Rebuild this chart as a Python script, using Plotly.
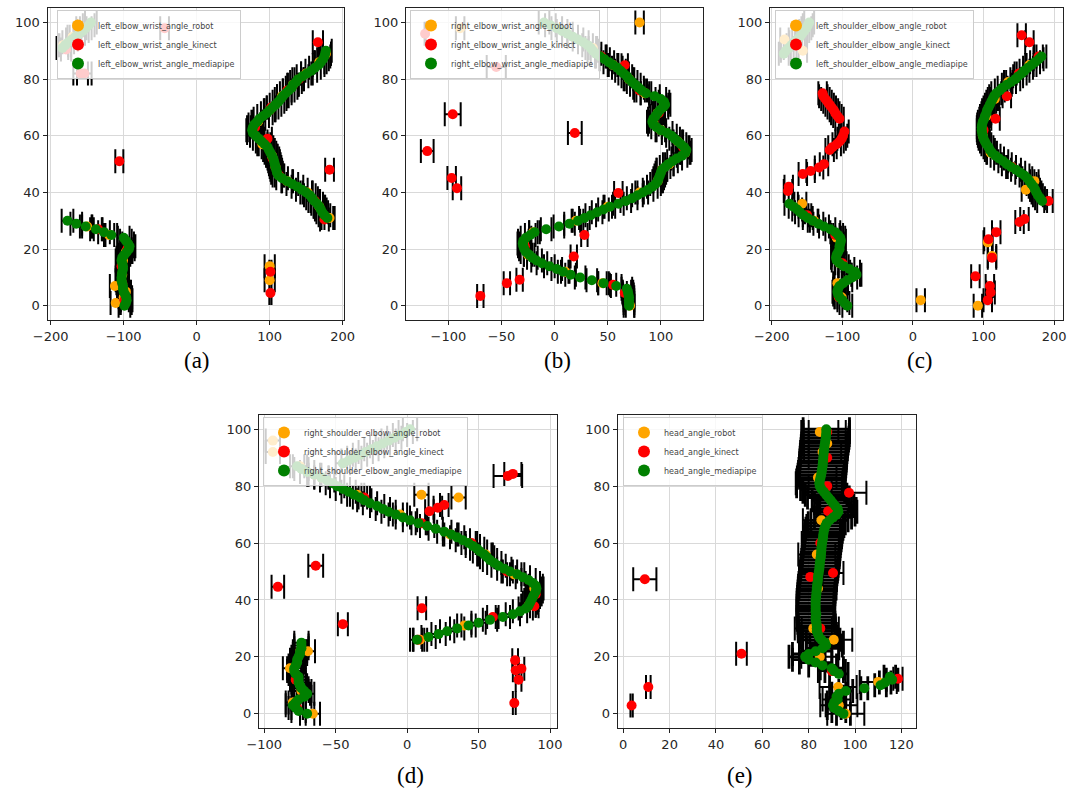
import plotly.graph_objects as go

# ---------------- data ----------------
# shared frame index (y axis) used by every mediapipe series
Y_INDEX = [0, 1, 2, 3, 4, 5, 6, 7, 8, 9, 10, 11, 12, 13, 14, 15, 16, 17, 18, 19,
           20, 21, 22, 23, 24, 25, 26, 27, 28, 29, 30, 31, 32, 33, 34, 35, 36, 37, 38, 39,
           40, 41, 42, 43, 44, 45, 46, 47, 48, 49, 50, 51, 52, 53, 54, 55, 56, 57, 58, 59,
           60, 61, 62, 63, 64, 65, 66, 67, 68, 69, 70, 71, 72, 73, 74, 75, 76, 77, 78, 79,
           80, 81, 82, 83, 84, 85, 86, 87, 88, 89, 90, 91, 92, 93, 94, 95, 96, 97, 98, 99, 100]

# (a) left_elbow_wrist_angle
A_MP_X = [-99, -97, -96, -96.5, -98, -100, -101, -101, -102, -103, -103, -102.5, -102, -101, -101,
          -102, -103, -102, -99, -96, -93, -92, -94, -97, -100, -117, -127, -138, -152, -165, -177,
          179, 175, 172, 170, 168, 165, 161, 158, 155, 150, 144, 138, 131, 124, 117, 112, 110, 109,
          108, 107, 106, 105, 103, 101, 99, 97, 93, 89, 85, 81, 77, 76, 77, 79, 83, 86, 91, 96, 100,
          104, 108, 112, 115, 118, 122, 126, 130, 132, 136, 139, 145, 151, 157, 162, 167, 170, 173,
          175, 176, 177, -184, -180, -176, -171, -166, -161, -156, -152, -148, -145]
A_RB_X = [-111, -100, -97, -112, 100, -102, 100, -101, -97, -93, -120, -150, 182, 168, 152, 124,
          108, 103, 90, 77, 84, 100, 117, 132, 150, 168, 177, -183, -170, -158]
A_RB_Y = [1, 3, 5, 7, 9, 11, 14, 16, 19, 21, 25, 28, 31, 35, 40, 44, 49, 53, 57, 62, 65, 69, 74,
          78, 82, 86, 89, 92, 95, 98]
A_KN_X = [101, -99, -102, 101, -103, -95, -135, 175, 162, 113, 182, -106, 104, 97, 80, 102, 124,
          140, -159, -154, 166, -179, -44]
A_KN_Y = [4.5, 2, 8, 12, 14, 20, 27, 30.5, 37, 46, 48, 51, 52, 59, 63, 70, 76, 80, 82, 82, 93,
          90.5, 98]
A_KN_ERR = [1.5, 6, 6, 1.5, 6, 6, 6, 6, 6, 6, 6, 5.5, 6, 6, 6, 6, 6, 6, 10, 10, 7, 7, 6]

# (b) right_elbow_wrist_angle
B_MP_X = [70, 70, 70, 70, 69.5, 69, 68, 58, 46, 35, 24, 15, 8, 2, -5, -12, -17, -21, -24, -27,
          -28.5, -29.5, -30, -29.5, -27, -23, -19, -8, 4, 14, 22, 28, 34, 40, 46, 52, 60, 67, 73,
          78, 83, 88, 92, 95, 97, 98, 99, 100, 101, 104, 107, 111, 115, 120, 123, 124, 122, 119,
          116, 113, 110, 106, 100, 96, 93, 92, 93, 95, 97, 99, 102, 104, 103, 100, 94, 86, 82, 79,
          76, 73, 70, 68, 65, 62, 59, 55, 51, 47, 43, 39, 36, 34, 31, 27, 22, 17, 12, 7, 2, -4, -10]
B_RB_X = [71, 68, 45, 10, -25, -29, -20, 20, 50, 80, 97, 108, 123, 116, 100, 93, 97, 103, 85, 70,
          55, 36, 80, -89]
B_RB_Y = [0, 5, 8, 12, 18, 22, 26, 30, 35, 40, 44, 50, 54, 58, 62, 65, 68, 71, 75, 80, 85, 91,
          100, 98]
B_KN_X = [66, 55, -70, -45, -33, 18, 28, -28, 60, 101, -92, -97, 121, -120, 19, 98, -96, 80, 66,
          -55, 44, -122]
B_KN_Y = [4.5, 7.4, 3.5, 8, 9.2, 17.4, 25, 21, 39.8, 48, 41.5, 45.1, 56, 54.6, 61, 68, 67.6, 76,
          84.9, 84.3, 88, 96]
B_KN_ERR = [2, 3, 3, 3, 3, 3, 3, 5, 4, 5, 4, 4, 5, 6, 6.5, 5, 7.5, 5, 3, 9, 5, 0.5]

# (c) left_shoulder_elbow_angle
C_MP_X = [-93, -97, -100, -104, -106, -107, -106, -104, -99, -93, -86, -80, -82, -90, -98, -104,
          -108, -109, -108, -106, -104, -104, -103, -102, -103, -106, -110, -117, -126, -134, -142,
          -149, -155, -160, -164, -169, -175, 183, 180, 177, 175, 173, 171, 168, 165, 162, 158, 152,
          146, 139, 133, 128, 122, 117, 112, 109, 107, 104, 102, 100, 99, 98, 97.5, 97.5, 98, 99,
          101, 102, 104, 105, 107, 109, 111, 113, 115, 118, 123, 127, 133, 139, 145, 149, 154, 158,
          163, 168, 173, 178, 182, -183, -180, -176, -172, -168, -164, -160, -157, -154, -151,
          -149, -147]
C_RB_X = [92, 11, -101, -107, -81, -104, 112, 106, -108, -140, -157, 160, 172, 140, 110, 99, 104,
          116, 135, 165, -156, -182]
C_RB_Y = [0, 2, 3, 8, 11, 15, 17.6, 22.4, 24, 30, 36, 41, 44, 49, 54, 60, 67, 73, 79, 85, 90, 94]
C_KN_X = [106, 110, 109, 88.5, 112, 107, 118, 151, 158, 192, -105, -100, -110, -150, -177, -176,
          -156, -145, -133, -126, -118, -114, -108, -104, -101, -99, -97, -104, -107, -110, -112,
          -115, -118, -121, -124, -127, -128, 140, 100, 117, 133, 150, 178, 154, 165]
C_KN_Y = [2, 4.7, 7, 10.4, 17, 23.5, 26, 29.6, 30.6, 37, 3, 15, 25, 32, 40.5, 42, 46.5, 47.6,
          48.8, 50, 55, 56, 57, 58, 59, 60, 61.5, 66, 67, 68, 69, 70, 71, 72, 73, 74, 75, 49, 62,
          66, 74, 82, 88, 95.5, 93]

# (d) right_shoulder_elbow_angle
D_MP_X = [-70, -76, -78, -80, -78, -76, -72, -70, -72, -74, -75, -76, -76, -76, -78, -79, -79,
          -78, -77, -77, -76, -75, -75, -74, -74, -74, 7, 15, 22, 28, 35, 43, 50, 58, 67, 74, 79,
          83, 85, 86, 87, 88, 89, 90, 90.5, 90, 88, 85, 81, 77, 72, 68, 64, 61, 58, 56, 54, 51, 49,
          46, 43, 39, 35, 31, 26, 20, 14, 8, 2, -3, -8, -13, -17, -21, -26, -30, -33, -37, -41,
          -45, -49, -52, -56, -60, -65, -70, -74, -77, -45, -41, -37, -33, -29, -25, -21, -17,
          -13, -9, -5, -1, 2]
D_RB_X = [-66, -80, -74, -82, -69.5, 9, 40, 85, 89, 75, 55, 30, -5, 10, 36, -35, -60, -75, -94, -94]
D_RB_Y = [0, 4, 8, 16, 22, 26, 31, 38, 44, 49, 56, 63, 70, 77, 76, 77, 83, 87, 92, 96]
D_KN_X = [75, -77, -72, 78, -78, 76, 80, -75, 7.5, -45, 60, 89, 90, -90.5, 70, -64, 45, 15.6,
          21.5, 26, 10, -30, 70.5, 74, -65, 10.3, 75.6]
D_KN_Y = [3.8, 2, 7, 12, 12, 15.3, 15.8, 22, 26, 31.5, 34, 37.8, 42, 44.6, 50, 52, 60, 71.2,
          72.4, 73.4, 67, 76, 83.6, 84.3, 84, 37.1, 18.8]
D_KN_ERR = [1, 4, 4, 2, 4, 2, 2, 4, 3, 3.5, 4, 3, 4, 4.4, 4, 5.2, 4, 3, 3, 3, 4, 4, 10, 6, 4, 3, 2]

# (e) head_angle
E_MP_X = [95, 93, 91, 90.5, 91, 92.5, 92, 93, 96, 104, 111, 113, 116, 115, 93, 91, 90, 86, 83, 80,
          78.5, 80, 83, 86, 87.5, 87, 85.5, 84.5, 84, 83.5, 83.5, 83.5, 83.3, 83, 83, 83.3, 83, 83,
          83, 83, 83, 83.2, 83.3, 83.4, 83.5, 83.6, 83.8, 84, 84, 84.2, 84.4, 84.6, 84.7, 84.8, 85,
          85.2, 85.3, 85.4, 85.5, 85.6, 85.8, 86, 86.2, 86.3, 86.5, 86.8, 87.2, 87.8, 89, 90.5, 92,
          92.8, 92.5, 91.5, 90.5, 89.5, 88.5, 87.5, 86.5, 85.5, 84.8, 84.6, 84.8, 85.1, 85.4, 85.6,
          85.8, 86, 86.1, 86.2, 86.3, 86.4, 86.5, 86.7, 86.8, 87, 87.2, 87.4, 87.5, 87.6, 87.6]
E_MP_ERR = [3, 3, 3, 3, 3, 3, 3, 3, 3, 1.5, 2.5, 2.5, 2.5, 2.5, 4, 4, 5, 6, 7, 7,
            7, 7, 7, 7, 7, 8, 8, 8, 8, 8, 8, 8, 8, 8, 8, 8, 8, 8, 8, 8,
            8, 8, 8, 8, 8, 8, 8, 8, 8, 8, 8, 8, 8, 8, 8, 8, 8, 8, 8, 8,
            8, 8, 8, 8, 8, 8, 8, 8, 8, 8, 8, 8, 8, 8, 8, 8, 9, 9, 9, 9,
            10, 10, 10, 10, 10, 10, 10, 10, 10, 10, 10, 10, 10, 10, 10, 10, 10, 10, 10, 10, 10]
E_RB_X = [96, 93, 92.7, 110, 84.8, 90.8, 82, 84, 83.5, 85.5, 84, 86, 88, 84.8]
E_RB_Y = [0, 3, 9.4, 11.2, 20, 26, 30, 44, 56, 68, 83, 92, 95, 99]
E_KN_X = [3.6, 10.8, 9.3, 51, 80.7, 90.5, 97.4, 88.4, 118.5, 92, 90, 85, 85, 88, 88, 88]
E_KN_Y = [2.9, 9.4, 47.3, 21.1, 48.1, 49.5, 77.7, 71.2, 12.3, 5, 15, 30, 60, 80, 90, 99]
E_KN_ERR = [0.5, 1, 5, 2.3, 4.7, 4.5, 7.5, 4, 2, 6, 6, 8, 8, 8, 8, 8]

PREFIXES = ["left_elbow_wrist_angle", "right_elbow_wrist_angle", "left_shoulder_elbow_angle",
            "right_shoulder_elbow_angle", "head_angle"]
CAPTIONS = ["(a)", "(b)", "(c)", "(d)", "(e)"]
Y_TICKS = [0, 20, 40, 60, 80, 100]
X_TICKS = [[-200, -100, 0, 100, 200], [-100, -50, 0, 50, 100], [-200, -100, 0, 100, 200],
           [-100, -50, 0, 50, 100], [0, 20, 40, 60, 80, 100, 120]]

# ---------------- layout geometry (pixels of the 1069x791 page) ----------------
W, H = 1069, 791
FRAMES = [  # left, right, top, bottom
    (47.5, 344, 8.3, 320),
    (406, 703.3, 8.3, 320),
    (770, 1063.3, 8.3, 320),
    (259, 557, 415, 728),
    (617.7, 916, 415, 728),
]
X_RANGES = [[-204.4, 201.8], [-140, 140], [-202.5, 213], [-103.7, 104.9], [-2.4, 126.3]]
Y_RANGE = [-5, 105]
CAPTION_POS = [(197, 360), (557, 360), (920, 360), (410, 775), (740, 775)]
LEGEND_POS = [(57, 10), (410, 10), (775, 10), (263, 417), (623, 417)]
MP_THICK = [2, 2, 2, 2, 2.8]

series = [
    (A_RB_X, A_RB_Y, 7, A_KN_X, A_KN_Y, A_KN_ERR, A_MP_X, [8] * len(A_MP_X)),
    (B_RB_X, B_RB_Y, 4, B_KN_X, B_KN_Y, B_KN_ERR, B_MP_X, [5] * len(B_MP_X)),
    (C_RB_X, C_RB_Y, 6, C_KN_X, C_KN_Y, [6] * len(C_KN_X), C_MP_X, [7] * len(C_MP_X)),
    (D_RB_X, D_RB_Y, 5, D_KN_X, D_KN_Y, D_KN_ERR, D_MP_X, [5] * len(D_MP_X)),
    (E_RB_X, E_RB_Y, 8, E_KN_X, E_KN_Y, E_KN_ERR, E_MP_X, E_MP_ERR),
]
COLORS = ["orange", "red", "green"]
SUFFIXES = ["_robot", "_kinect", "_mediapipe"]

fig = go.Figure()
layout = dict(width=W, height=H, margin=dict(l=0, r=0, t=0, b=0, pad=0), autosize=False,
              paper_bgcolor="white", plot_bgcolor="white", template="none",
              showlegend=True, annotations=[])

for i in range(5):
    sfx = "" if i == 0 else str(i + 1)
    xa, ya = "x" + sfx, "y" + sfx
    leg = "legend" + sfx
    rbx, rby, rberr, knx, kny, knerr, mpx, mperr = series[i]
    pts = [(rbx, rby, [rberr] * len(rbx), 2),
           (knx, kny, knerr, 2),
           (mpx, Y_INDEX, mperr, MP_THICK[i])]
    # error bars of all three series first (as matplotlib draws bars below every marker)
    for (xs, ys, err, th) in pts:
        fig.add_trace(go.Scatter(
            x=xs, y=ys, mode="markers", showlegend=False, hoverinfo="skip",
            marker=dict(size=10, opacity=0),
            error_x=dict(type="data", array=err, color="black", thickness=th, width=12),
            xaxis=xa, yaxis=ya))
    # then the markers
    for k, (xs, ys, err, th) in enumerate(pts):
        fig.add_trace(go.Scatter(
            x=xs, y=ys, mode="markers", name=PREFIXES[i] + SUFFIXES[k], legend=leg,
            marker=dict(color=COLORS[k], size=10, line=dict(width=0)),
            xaxis=xa, yaxis=ya))

    l, r, t, b = FRAMES[i]
    axis_common = dict(showline=True, linecolor="#222", linewidth=1, mirror=True,
                       ticks="outside", ticklen=4, tickwidth=1, tickcolor="#222",
                       showgrid=True, gridcolor="#d9d9d9", gridwidth=1, zeroline=False,
                       tickfont=dict(family="DejaVu Sans", size=13, color="#262626"),
                       automargin=False, fixedrange=True)
    layout["xaxis" + sfx] = dict(domain=[l / W, r / W], range=X_RANGES[i], anchor=ya,
                                 tickmode="array", tickvals=X_TICKS[i], **axis_common)
    layout["yaxis" + sfx] = dict(domain=[1 - b / H, 1 - t / H], range=Y_RANGE, anchor=xa,
                                 tickmode="array", tickvals=Y_TICKS, **axis_common)
    lx, ly = LEGEND_POS[i]
    layout[leg] = dict(x=lx / W, y=1 - ly / H, xanchor="left", yanchor="top",
                       xref="paper", yref="paper",
                       bgcolor="rgba(255,255,255,0.8)", bordercolor="#cccccc", borderwidth=1,
                       font=dict(family="DejaVu Sans", size=8, color="#444"),
                       itemsizing="constant", tracegroupgap=0, itemwidth=30)
    cx, cy = CAPTION_POS[i]
    layout["annotations"].append(dict(
        text=CAPTIONS[i], x=cx / W, y=1 - cy / H, xref="paper", yref="paper",
        showarrow=False, xanchor="center", yanchor="middle",
        font=dict(family="Liberation Serif", size=23, color="black")))

fig.update_layout(**layout)
# the page body must not add its default 8px margin around the fixed-size figure
fig.write_html("out.html", config={"displayModeBar": False, "staticPlot": True},
               post_script="document.body.style.margin='0px';document.body.style.overflow='hidden';")
